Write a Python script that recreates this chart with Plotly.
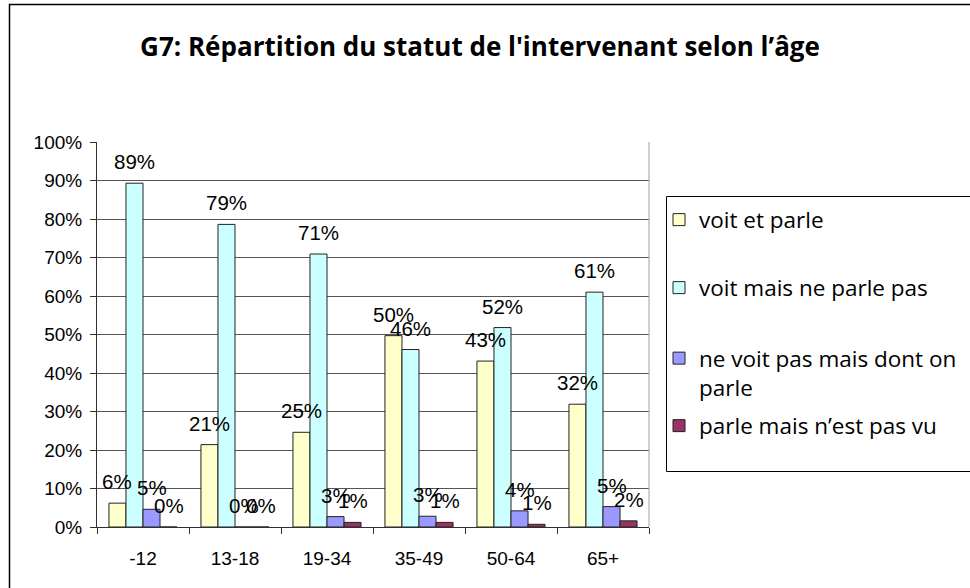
import plotly.graph_objects as go

categories = ["-12", "13-18", "19-34", "35-49", "50-64", "65+"]
series_names = ["voit et parle", "voit mais ne parle pas",
                "ne voit pas mais dont on<br>parle", "parle mais n’est pas vu"]
voit_et_parle = [6.2, 21.4, 24.6, 49.7, 43.1, 31.9]
voit_mais_ne_parle_pas = [89.3, 78.6, 70.9, 46.1, 51.8, 61.0]
ne_voit_pas_mais_dont_on_parle = [4.6, 0.0, 2.7, 2.8, 4.2, 5.3]
parle_mais_nest_pas_vu = [0.0, 0.0, 1.2, 1.2, 0.7, 1.6]
y_ticks = [0, 10, 20, 30, 40, 50, 60, 70, 80, 90, 100]

series_values = [voit_et_parle, voit_mais_ne_parle_pas,
                 ne_voit_pas_mais_dont_on_parle, parle_mais_nest_pas_vu]
colors = ["#FFFFCC", "#CCFFFF", "#9999FF", "#993366"]

W, H = 970, 588
L, R, T, B = 97, 649, 142, 527
PW, PH = R - L, B - T


def px_x(px):
    return (px - L) / PW


def px_y(py):
    return (B - py) / PH


ARIAL = "Liberation Sans, Arial, sans-serif"
SEGOE = "Open Sans, Noto Sans, sans-serif"

fig = go.Figure()
legend_ids = ["legend", "legend2", "legend3", "legend4"]
for k, (name, vals, col) in enumerate(zip(series_names, series_values, colors)):
    fig.add_trace(go.Bar(
        x=categories, y=[v / 100 for v in vals], name=name,
        marker=dict(color=col, line=dict(color="#222222", width=1)),
        legend=legend_ids[k], hoverinfo="skip",
    ))

# data labels (x given as category index on the category axis)
n_series = len(series_values)
bargap = 0.26
bar_px = PW / len(categories) * (1 - bargap) / n_series
for k, vals in enumerate(series_values):
    for j, v in enumerate(vals):
        fig.add_annotation(
            x=j, y=v / 100, text=f"{v:.0f}%", showarrow=False,
            xshift=(k - (n_series - 1) / 2) * bar_px, yshift=8,
            yanchor="bottom", font=dict(family=ARIAL, size=20.5, color="#000000"),
        )

legend_common = dict(font=dict(family=SEGOE, size=22.5, color="#000000"),
                     bgcolor="rgba(0,0,0,0)", borderwidth=0,
                     xanchor="left", yanchor="middle", x=px_x(659))
legend_y_px = [220, 288, 373, 426]

fig.update_layout(
    width=W, height=H,
    margin=dict(l=L, r=W - R, t=T, b=H - B, pad=0, autoexpand=False),
    paper_bgcolor="white", plot_bgcolor="white",
    barmode="group", bargap=bargap, bargroupgap=0,
    title=dict(text="<b>G7: Répartition du statut de l'intervenant selon l’âge</b>",
               x=480 / W, xanchor="center", y=1 - 47 / H, yanchor="middle",
               font=dict(family=SEGOE, size=26, color="#000000")),
    xaxis=dict(type="category", range=[-0.5, len(categories) - 0.5], automargin=False,
               tickangle=0,
               showline=True, linecolor="#303030", linewidth=1,
               ticks="outside", tickson="boundaries", ticklen=6, tickcolor="#303030",
               ticklabelstandoff=14,
               tickfont=dict(family=ARIAL, size=19, color="#000000"), showgrid=False),
    yaxis=dict(range=[0, 1], tickvals=[t / 100 for t in y_ticks],
               ticktext=[f"{t}%" for t in y_ticks], automargin=False,
               showline=True, linecolor="#303030", linewidth=1,
               ticks="outside", ticklen=6, tickcolor="#303030", ticklabelstandoff=4,
               showgrid=True, gridcolor="#555555", gridwidth=1, zeroline=False,
               tickfont=dict(family=ARIAL, size=19, color="#000000")),
    showlegend=True,
)
for k, lid in enumerate(legend_ids):
    cfg = dict(legend_common, y=px_y(legend_y_px[k]))
    if k == 2:
        cfg["valign"] = "top"
    fig.update_layout({lid: cfg})

# plot area right border
fig.add_shape(type="line", xref="paper", yref="paper", x0=1, x1=1, y0=0, y1=1,
              line=dict(color="#a0a0a0", width=1))
# legend box
fig.add_shape(type="rect", xref="paper", yref="paper",
              x0=px_x(666.5), x1=px_x(990), y0=px_y(471.5), y1=px_y(196.5),
              line=dict(color="#000000", width=1), fillcolor="rgba(0,0,0,0)", layer="below")
# outer chart border
fig.add_shape(type="rect", xref="paper", yref="paper",
              x0=px_x(9.5), x1=px_x(1000), y0=px_y(610), y1=px_y(4.5),
              line=dict(color="#000000", width=1.5), fillcolor="rgba(0,0,0,0)", layer="below")

fig.write_html("out.html", config={"displayModeBar": False},
               post_script="document.body.style.margin='0';document.body.style.overflow='hidden';")
